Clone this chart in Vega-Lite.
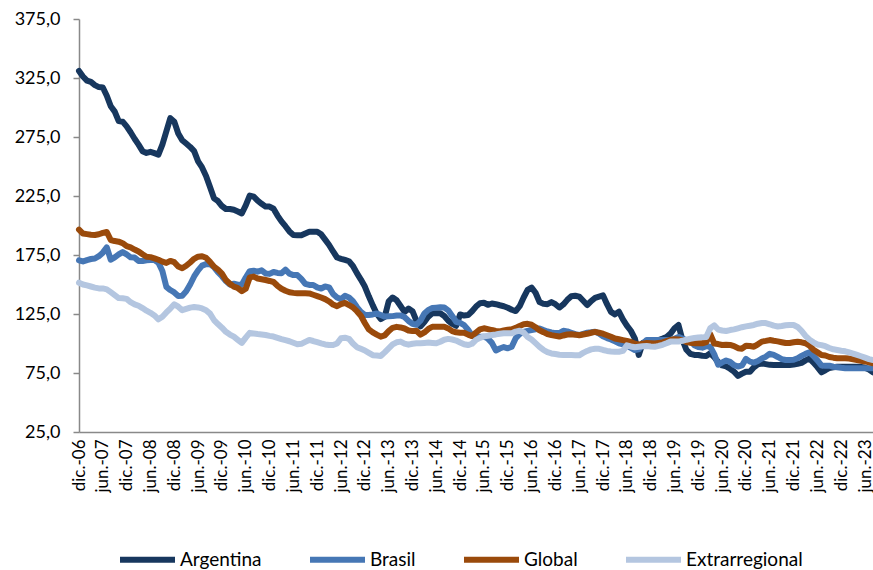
{
"$schema": "https://vega.github.io/schema/vega-lite/v6.json",
"width": 794,
"height": 413,
"autosize": {"type": "none"},
"padding": {"left": 79, "top": 19, "right": 0, "bottom": 138},
"background": "white",
"config": {"view": {"stroke": null}, "font": "Lato"},
"data": {"values": [
{"mes":"2006-12","Argentina":331,"Brasil":170.5,"Global":196.5,"Extrarregional":151.5},
{"mes":"2007-01","Argentina":326.3,"Brasil":169.5,"Global":193.2,"Extrarregional":150},
{"mes":"2007-02","Argentina":322.8,"Brasil":170.7,"Global":192.7,"Extrarregional":149.2},
{"mes":"2007-03","Argentina":321.7,"Brasil":171.6,"Global":192.2,"Extrarregional":148.3},
{"mes":"2007-04","Argentina":319,"Brasil":172,"Global":192,"Extrarregional":147.4},
{"mes":"2007-05","Argentina":317.3,"Brasil":174,"Global":192.6,"Extrarregional":146.7},
{"mes":"2007-06","Argentina":316.9,"Brasil":177,"Global":193.7,"Extrarregional":146.7},
{"mes":"2007-07","Argentina":310,"Brasil":181.5,"Global":194.5,"Extrarregional":145.9},
{"mes":"2007-08","Argentina":301,"Brasil":171,"Global":187.7,"Extrarregional":143.5},
{"mes":"2007-09","Argentina":296.5,"Brasil":173,"Global":186.8,"Extrarregional":141},
{"mes":"2007-10","Argentina":288.5,"Brasil":175.5,"Global":186.3,"Extrarregional":138.5},
{"mes":"2007-11","Argentina":288,"Brasil":177.5,"Global":185,"Extrarregional":138.3},
{"mes":"2007-12","Argentina":284,"Brasil":175.5,"Global":182.5,"Extrarregional":137.8},
{"mes":"2008-01","Argentina":279,"Brasil":173,"Global":181.4,"Extrarregional":135},
{"mes":"2008-02","Argentina":273.5,"Brasil":172.8,"Global":179.6,"Extrarregional":133.2},
{"mes":"2008-03","Argentina":268.5,"Brasil":170,"Global":178,"Extrarregional":132},
{"mes":"2008-04","Argentina":263,"Brasil":169.9,"Global":175.6,"Extrarregional":130},
{"mes":"2008-05","Argentina":261.5,"Brasil":170.6,"Global":173.5,"Extrarregional":127.8},
{"mes":"2008-06","Argentina":262.4,"Brasil":170.8,"Global":173.2,"Extrarregional":126},
{"mes":"2008-07","Argentina":261.3,"Brasil":170.8,"Global":172.2,"Extrarregional":123.8},
{"mes":"2008-08","Argentina":260,"Brasil":168.5,"Global":171,"Extrarregional":120.5},
{"mes":"2008-09","Argentina":268.6,"Brasil":161.5,"Global":169.4,"Extrarregional":122.7},
{"mes":"2008-10","Argentina":279.8,"Brasil":148,"Global":168.3,"Extrarregional":126.3},
{"mes":"2008-11","Argentina":291,"Brasil":145.3,"Global":170,"Extrarregional":129.6},
{"mes":"2008-12","Argentina":288,"Brasil":143.3,"Global":168.9,"Extrarregional":133.2},
{"mes":"2009-01","Argentina":278,"Brasil":140.3,"Global":165.2,"Extrarregional":131.2},
{"mes":"2009-02","Argentina":272.3,"Brasil":140.5,"Global":163.8,"Extrarregional":128.2},
{"mes":"2009-03","Argentina":269.5,"Brasil":144.2,"Global":165.9,"Extrarregional":129.3},
{"mes":"2009-04","Argentina":266.6,"Brasil":150,"Global":168.7,"Extrarregional":130.4},
{"mes":"2009-05","Argentina":263,"Brasil":156.8,"Global":171.8,"Extrarregional":130.9},
{"mes":"2009-06","Argentina":254.3,"Brasil":162,"Global":173.6,"Extrarregional":130.6},
{"mes":"2009-07","Argentina":249.2,"Brasil":166,"Global":174,"Extrarregional":129.7},
{"mes":"2009-08","Argentina":242,"Brasil":167.3,"Global":172.7,"Extrarregional":128.2},
{"mes":"2009-09","Argentina":232.6,"Brasil":167.2,"Global":169.2,"Extrarregional":125.3},
{"mes":"2009-10","Argentina":223,"Brasil":164.7,"Global":165.1,"Extrarregional":119.9},
{"mes":"2009-11","Argentina":220.7,"Brasil":160.4,"Global":162.6,"Extrarregional":116.5},
{"mes":"2009-12","Argentina":216.5,"Brasil":157,"Global":159.2,"Extrarregional":113.4},
{"mes":"2010-01","Argentina":214,"Brasil":152.9,"Global":153.8,"Extrarregional":109.9},
{"mes":"2010-02","Argentina":214,"Brasil":149.9,"Global":150.6,"Extrarregional":107.6},
{"mes":"2010-03","Argentina":213.3,"Brasil":150.6,"Global":148.2,"Extrarregional":105.8},
{"mes":"2010-04","Argentina":211.8,"Brasil":149.8,"Global":147,"Extrarregional":103.1},
{"mes":"2010-05","Argentina":210.2,"Brasil":149.9,"Global":144.4,"Extrarregional":100.5},
{"mes":"2010-06","Argentina":217,"Brasil":155.9,"Global":146.4,"Extrarregional":105},
{"mes":"2010-07","Argentina":225.4,"Brasil":161.3,"Global":156,"Extrarregional":109},
{"mes":"2010-08","Argentina":224.4,"Brasil":161.6,"Global":156.7,"Extrarregional":108.5},
{"mes":"2010-09","Argentina":221,"Brasil":160.9,"Global":155.1,"Extrarregional":108},
{"mes":"2010-10","Argentina":218.4,"Brasil":162,"Global":154.5,"Extrarregional":107.6},
{"mes":"2010-11","Argentina":216,"Brasil":159.4,"Global":153.8,"Extrarregional":107.2},
{"mes":"2010-12","Argentina":216,"Brasil":159,"Global":153,"Extrarregional":106.5},
{"mes":"2011-01","Argentina":214.2,"Brasil":160.6,"Global":152.1,"Extrarregional":105.9},
{"mes":"2011-02","Argentina":208.4,"Brasil":159.8,"Global":148.9,"Extrarregional":104.8},
{"mes":"2011-03","Argentina":203.5,"Brasil":159.6,"Global":146.4,"Extrarregional":103.7},
{"mes":"2011-04","Argentina":199.4,"Brasil":162.6,"Global":144.7,"Extrarregional":102.8},
{"mes":"2011-05","Argentina":195,"Brasil":159.2,"Global":143.4,"Extrarregional":101.9},
{"mes":"2011-06","Argentina":192,"Brasil":158,"Global":142.9,"Extrarregional":100.6},
{"mes":"2011-07","Argentina":191.7,"Brasil":158,"Global":142.5,"Extrarregional":99.3},
{"mes":"2011-08","Argentina":191.8,"Brasil":154.8,"Global":142.5,"Extrarregional":99.7},
{"mes":"2011-09","Argentina":193.3,"Brasil":150.6,"Global":142.5,"Extrarregional":101.4},
{"mes":"2011-10","Argentina":194.7,"Brasil":149.6,"Global":142.4,"Extrarregional":103},
{"mes":"2011-11","Argentina":194.7,"Brasil":149.6,"Global":141.3,"Extrarregional":102.1},
{"mes":"2011-12","Argentina":194.7,"Brasil":147.6,"Global":140.2,"Extrarregional":101.1},
{"mes":"2012-01","Argentina":192.5,"Brasil":146.6,"Global":139,"Extrarregional":100.1},
{"mes":"2012-02","Argentina":188,"Brasil":148.3,"Global":137.6,"Extrarregional":99.2},
{"mes":"2012-03","Argentina":183.5,"Brasil":147.6,"Global":135.6,"Extrarregional":98.7},
{"mes":"2012-04","Argentina":178,"Brasil":142,"Global":133,"Extrarregional":98.7},
{"mes":"2012-05","Argentina":172.9,"Brasil":139,"Global":131.6,"Extrarregional":100},
{"mes":"2012-06","Argentina":171.8,"Brasil":137.6,"Global":133.4,"Extrarregional":104.5},
{"mes":"2012-07","Argentina":170.8,"Brasil":140.4,"Global":134.4,"Extrarregional":104.9},
{"mes":"2012-08","Argentina":169.7,"Brasil":139,"Global":132.6,"Extrarregional":104},
{"mes":"2012-09","Argentina":165.7,"Brasil":135.8,"Global":130.6,"Extrarregional":100},
{"mes":"2012-10","Argentina":159.6,"Brasil":130.9,"Global":127.4,"Extrarregional":96.9},
{"mes":"2012-11","Argentina":154.2,"Brasil":126.8,"Global":123.5,"Extrarregional":95.5},
{"mes":"2012-12","Argentina":148.3,"Brasil":124.2,"Global":117.4,"Extrarregional":94.1},
{"mes":"2013-01","Argentina":140,"Brasil":124.2,"Global":111.9,"Extrarregional":92.1},
{"mes":"2013-02","Argentina":132.3,"Brasil":124.6,"Global":109.4,"Extrarregional":90.1},
{"mes":"2013-03","Argentina":125.2,"Brasil":125.5,"Global":107.5,"Extrarregional":89.8},
{"mes":"2013-04","Argentina":120.7,"Brasil":124.1,"Global":105.8,"Extrarregional":89.4},
{"mes":"2013-05","Argentina":122.5,"Brasil":122.8,"Global":106.9,"Extrarregional":92.5},
{"mes":"2013-06","Argentina":135.7,"Brasil":123,"Global":110.5,"Extrarregional":95.8},
{"mes":"2013-07","Argentina":139,"Brasil":123.2,"Global":113.3,"Extrarregional":99.2},
{"mes":"2013-08","Argentina":136.6,"Brasil":123.7,"Global":114.1,"Extrarregional":101},
{"mes":"2013-09","Argentina":131.8,"Brasil":123.8,"Global":113.6,"Extrarregional":101.6},
{"mes":"2013-10","Argentina":126.8,"Brasil":122.4,"Global":112.7,"Extrarregional":99.9},
{"mes":"2013-11","Argentina":129.6,"Brasil":119.1,"Global":111,"Extrarregional":99},
{"mes":"2013-12","Argentina":127.4,"Brasil":116.7,"Global":110.5,"Extrarregional":99.8},
{"mes":"2014-01","Argentina":119.1,"Brasil":115.9,"Global":110.7,"Extrarregional":100.2},
{"mes":"2014-02","Argentina":114.5,"Brasil":119.3,"Global":107.5,"Extrarregional":100.2},
{"mes":"2014-03","Argentina":118.2,"Brasil":125.5,"Global":109.4,"Extrarregional":100.5},
{"mes":"2014-04","Argentina":122.8,"Brasil":128.5,"Global":112.3,"Extrarregional":100.8},
{"mes":"2014-05","Argentina":125.6,"Brasil":130,"Global":114.2,"Extrarregional":100.5},
{"mes":"2014-06","Argentina":125.6,"Brasil":130.4,"Global":114.2,"Extrarregional":100.2},
{"mes":"2014-07","Argentina":125.6,"Brasil":130.8,"Global":114.2,"Extrarregional":101.5},
{"mes":"2014-08","Argentina":123.3,"Brasil":130.5,"Global":114.2,"Extrarregional":103.2},
{"mes":"2014-09","Argentina":119.4,"Brasil":128.1,"Global":112.8,"Extrarregional":103.9},
{"mes":"2014-10","Argentina":116.6,"Brasil":123.4,"Global":110.5,"Extrarregional":103.4},
{"mes":"2014-11","Argentina":115,"Brasil":118.4,"Global":109.5,"Extrarregional":102.5},
{"mes":"2014-12","Argentina":124.6,"Brasil":117.4,"Global":109.1,"Extrarregional":100.9},
{"mes":"2015-01","Argentina":123.7,"Brasil":115.6,"Global":109.1,"Extrarregional":99.4},
{"mes":"2015-02","Argentina":124.1,"Brasil":111.7,"Global":107.5,"Extrarregional":98.7},
{"mes":"2015-03","Argentina":127.3,"Brasil":106.6,"Global":106.3,"Extrarregional":99.8},
{"mes":"2015-04","Argentina":131.3,"Brasil":105.8,"Global":109.3,"Extrarregional":103.1},
{"mes":"2015-05","Argentina":134.1,"Brasil":105.8,"Global":112,"Extrarregional":104.8},
{"mes":"2015-06","Argentina":134.5,"Brasil":105.8,"Global":112.9,"Extrarregional":106},
{"mes":"2015-07","Argentina":132.8,"Brasil":104.1,"Global":112.2,"Extrarregional":106.6},
{"mes":"2015-08","Argentina":133.9,"Brasil":100.5,"Global":111.4,"Extrarregional":107.2},
{"mes":"2015-09","Argentina":133.3,"Brasil":94.1,"Global":110.7,"Extrarregional":107.7},
{"mes":"2015-10","Argentina":132.4,"Brasil":95.8,"Global":110.2,"Extrarregional":108.3},
{"mes":"2015-11","Argentina":131.6,"Brasil":97,"Global":111,"Extrarregional":108.6},
{"mes":"2015-12","Argentina":130.3,"Brasil":95.9,"Global":111.6,"Extrarregional":108.6},
{"mes":"2016-01","Argentina":128.6,"Brasil":97.3,"Global":112,"Extrarregional":108.6},
{"mes":"2016-02","Argentina":127.5,"Brasil":104.4,"Global":113.2,"Extrarregional":110.1},
{"mes":"2016-03","Argentina":131.6,"Brasil":108,"Global":114.9,"Extrarregional":110.9},
{"mes":"2016-04","Argentina":139,"Brasil":109.8,"Global":116.3,"Extrarregional":109.4},
{"mes":"2016-05","Argentina":145.4,"Brasil":110.7,"Global":116.7,"Extrarregional":105.6},
{"mes":"2016-06","Argentina":147.4,"Brasil":111.4,"Global":115.9,"Extrarregional":103.4},
{"mes":"2016-07","Argentina":143,"Brasil":112,"Global":113.8,"Extrarregional":100.3},
{"mes":"2016-08","Argentina":135.2,"Brasil":112.8,"Global":111.2,"Extrarregional":97.1},
{"mes":"2016-09","Argentina":133.6,"Brasil":111.4,"Global":109.6,"Extrarregional":94.5},
{"mes":"2016-10","Argentina":133.3,"Brasil":110.2,"Global":107.9,"Extrarregional":92.6},
{"mes":"2016-11","Argentina":135.1,"Brasil":109.4,"Global":107.1,"Extrarregional":91.6},
{"mes":"2016-12","Argentina":133.3,"Brasil":108.8,"Global":106.5,"Extrarregional":91.1},
{"mes":"2017-01","Argentina":130.5,"Brasil":108.8,"Global":105.9,"Extrarregional":90.5},
{"mes":"2017-02","Argentina":133.1,"Brasil":110.8,"Global":106.8,"Extrarregional":90.3},
{"mes":"2017-03","Argentina":137,"Brasil":110.3,"Global":107.6,"Extrarregional":90.3},
{"mes":"2017-04","Argentina":140,"Brasil":109.1,"Global":107.9,"Extrarregional":90.2},
{"mes":"2017-05","Argentina":140.5,"Brasil":107.9,"Global":107.5,"Extrarregional":90.1},
{"mes":"2017-06","Argentina":139.7,"Brasil":107.2,"Global":107,"Extrarregional":90},
{"mes":"2017-07","Argentina":136.2,"Brasil":108.2,"Global":107.6,"Extrarregional":92},
{"mes":"2017-08","Argentina":132.6,"Brasil":109.1,"Global":108.2,"Extrarregional":93.7},
{"mes":"2017-09","Argentina":136,"Brasil":109.5,"Global":109.1,"Extrarregional":95},
{"mes":"2017-10","Argentina":138.6,"Brasil":110,"Global":109.8,"Extrarregional":95.5},
{"mes":"2017-11","Argentina":139.7,"Brasil":108.5,"Global":109.1,"Extrarregional":95.5},
{"mes":"2017-12","Argentina":140.8,"Brasil":106.1,"Global":108.3,"Extrarregional":94.5},
{"mes":"2018-01","Argentina":133.3,"Brasil":104.6,"Global":107,"Extrarregional":93.7},
{"mes":"2018-02","Argentina":126.8,"Brasil":103.4,"Global":105.7,"Extrarregional":93.3},
{"mes":"2018-03","Argentina":124.7,"Brasil":101.8,"Global":104.2,"Extrarregional":93},
{"mes":"2018-04","Argentina":127,"Brasil":100.2,"Global":103.6,"Extrarregional":93},
{"mes":"2018-05","Argentina":120.5,"Brasil":99.3,"Global":102.9,"Extrarregional":93.7},
{"mes":"2018-06","Argentina":115.2,"Brasil":98.2,"Global":102.2,"Extrarregional":98.4},
{"mes":"2018-07","Argentina":110.8,"Brasil":96.3,"Global":101.3,"Extrarregional":97.5},
{"mes":"2018-08","Argentina":104.4,"Brasil":94.5,"Global":99.8,"Extrarregional":96.8},
{"mes":"2018-09","Argentina":90.3,"Brasil":95,"Global":99,"Extrarregional":97.3},
{"mes":"2018-10","Argentina":100.4,"Brasil":99.7,"Global":99.9,"Extrarregional":97.7},
{"mes":"2018-11","Argentina":102,"Brasil":103,"Global":100.4,"Extrarregional":97.8},
{"mes":"2018-12","Argentina":103,"Brasil":103,"Global":100.2,"Extrarregional":97.4},
{"mes":"2019-01","Argentina":103,"Brasil":103,"Global":100,"Extrarregional":97.2},
{"mes":"2019-02","Argentina":103,"Brasil":103,"Global":100.5,"Extrarregional":98},
{"mes":"2019-03","Argentina":104.2,"Brasil":103,"Global":100.9,"Extrarregional":98.9},
{"mes":"2019-04","Argentina":105.5,"Brasil":103,"Global":102,"Extrarregional":100.2},
{"mes":"2019-05","Argentina":108.4,"Brasil":103,"Global":103,"Extrarregional":101.6},
{"mes":"2019-06","Argentina":112.9,"Brasil":104,"Global":103.7,"Extrarregional":101.6},
{"mes":"2019-07","Argentina":115.7,"Brasil":105.6,"Global":103.5,"Extrarregional":101.6},
{"mes":"2019-08","Argentina":103,"Brasil":104.3,"Global":102.6,"Extrarregional":102.3},
{"mes":"2019-09","Argentina":94.7,"Brasil":102.7,"Global":101.3,"Extrarregional":103.2},
{"mes":"2019-10","Argentina":91.3,"Brasil":102,"Global":100.6,"Extrarregional":104},
{"mes":"2019-11","Argentina":90.3,"Brasil":98.5,"Global":100.2,"Extrarregional":104.6},
{"mes":"2019-12","Argentina":90.3,"Brasil":97,"Global":100.2,"Extrarregional":105},
{"mes":"2020-01","Argentina":89.6,"Brasil":96.5,"Global":100.2,"Extrarregional":105.2},
{"mes":"2020-02","Argentina":89.5,"Brasil":97.8,"Global":101.1,"Extrarregional":105.5},
{"mes":"2020-03","Argentina":91.7,"Brasil":97.2,"Global":108,"Extrarregional":113},
{"mes":"2020-04","Argentina":88.4,"Brasil":91,"Global":100,"Extrarregional":115.4},
{"mes":"2020-05","Argentina":84.3,"Brasil":82,"Global":99.5,"Extrarregional":111.8},
{"mes":"2020-06","Argentina":81.4,"Brasil":84,"Global":98.7,"Extrarregional":111},
{"mes":"2020-07","Argentina":80.6,"Brasil":85.6,"Global":99,"Extrarregional":110.6},
{"mes":"2020-08","Argentina":78.6,"Brasil":84.4,"Global":98.8,"Extrarregional":111.4},
{"mes":"2020-09","Argentina":76.1,"Brasil":81.7,"Global":97.8,"Extrarregional":112},
{"mes":"2020-10","Argentina":72.6,"Brasil":80.5,"Global":96,"Extrarregional":112.9},
{"mes":"2020-11","Argentina":74.5,"Brasil":81.4,"Global":95.6,"Extrarregional":113.8},
{"mes":"2020-12","Argentina":76.1,"Brasil":87,"Global":98.1,"Extrarregional":114.5},
{"mes":"2021-01","Argentina":76.1,"Brasil":84.6,"Global":97.9,"Extrarregional":115.1},
{"mes":"2021-02","Argentina":79.9,"Brasil":83.8,"Global":97.3,"Extrarregional":115.7},
{"mes":"2021-03","Argentina":82.4,"Brasil":85.2,"Global":99.3,"Extrarregional":116.8},
{"mes":"2021-04","Argentina":83,"Brasil":87.3,"Global":101.6,"Extrarregional":117.4},
{"mes":"2021-05","Argentina":82.5,"Brasil":88.8,"Global":102.2,"Extrarregional":117.3},
{"mes":"2021-06","Argentina":81.9,"Brasil":91.3,"Global":102.9,"Extrarregional":116.3},
{"mes":"2021-07","Argentina":81.8,"Brasil":90.3,"Global":102.3,"Extrarregional":115.1},
{"mes":"2021-08","Argentina":81.8,"Brasil":88.6,"Global":101.8,"Extrarregional":114.4},
{"mes":"2021-09","Argentina":81.8,"Brasil":86.8,"Global":101.1,"Extrarregional":114.8},
{"mes":"2021-10","Argentina":81.8,"Brasil":86,"Global":100.4,"Extrarregional":115.4},
{"mes":"2021-11","Argentina":81.8,"Brasil":86,"Global":100.5,"Extrarregional":115.7},
{"mes":"2021-12","Argentina":82.2,"Brasil":86.2,"Global":101,"Extrarregional":115.7},
{"mes":"2022-01","Argentina":82.8,"Brasil":87.5,"Global":101.5,"Extrarregional":114},
{"mes":"2022-02","Argentina":83.6,"Brasil":89.5,"Global":101,"Extrarregional":110.7},
{"mes":"2022-03","Argentina":85.7,"Brasil":91.2,"Global":100.2,"Extrarregional":106.5},
{"mes":"2022-04","Argentina":87.2,"Brasil":92.6,"Global":98.2,"Extrarregional":103.3},
{"mes":"2022-05","Argentina":83.9,"Brasil":89.4,"Global":94.8,"Extrarregional":101},
{"mes":"2022-06","Argentina":80,"Brasil":85.7,"Global":92.6,"Extrarregional":99.2},
{"mes":"2022-07","Argentina":75.6,"Brasil":81.4,"Global":90.2,"Extrarregional":98.6},
{"mes":"2022-08","Argentina":77.3,"Brasil":81.2,"Global":89.8,"Extrarregional":97.7},
{"mes":"2022-09","Argentina":79.3,"Brasil":81.2,"Global":88.6,"Extrarregional":96.2},
{"mes":"2022-10","Argentina":79.8,"Brasil":80.3,"Global":88,"Extrarregional":95.1},
{"mes":"2022-11","Argentina":80.3,"Brasil":79.9,"Global":87.5,"Extrarregional":94.5},
{"mes":"2022-12","Argentina":80.3,"Brasil":79.4,"Global":87.5,"Extrarregional":93.9},
{"mes":"2023-01","Argentina":80.3,"Brasil":79,"Global":87.5,"Extrarregional":93.4},
{"mes":"2023-02","Argentina":80.3,"Brasil":79,"Global":87.2,"Extrarregional":92.4},
{"mes":"2023-03","Argentina":80.3,"Brasil":79,"Global":86.6,"Extrarregional":91.4},
{"mes":"2023-04","Argentina":80.3,"Brasil":79,"Global":86,"Extrarregional":90.3},
{"mes":"2023-05","Argentina":80.2,"Brasil":79,"Global":85.4,"Extrarregional":89.2},
{"mes":"2023-06","Argentina":79.5,"Brasil":79,"Global":84.8,"Extrarregional":88},
{"mes":"2023-07","Argentina":77.9,"Brasil":79,"Global":84,"Extrarregional":86.8},
{"mes":"2023-08","Argentina":75.5,"Brasil":79,"Global":83.3,"Extrarregional":86}
]},
"transform": [{"fold": ["Argentina", "Brasil", "Global", "Extrarregional"], "as": ["serie", "valor"]}],
"mark": {"type": "line", "strokeWidth": 6, "strokeJoin": "round", "strokeCap": "round"},
"encoding": {
"x": {"field": "mes", "type": "ordinal", "scale": {"type": "point", "padding": 0},
"axis": {"title": null, "values": ["2006-12","2007-06","2007-12","2008-06","2008-12","2009-06","2009-12","2010-06","2010-12","2011-06","2011-12","2012-06","2012-12","2013-06","2013-12","2014-06","2014-12","2015-06","2015-12","2016-06","2016-12","2017-06","2017-12","2018-06","2018-12","2019-06","2019-12","2020-06","2020-12","2021-06","2021-12","2022-06","2022-12","2023-06"],
"labelExpr": "(substring(datum.value,5,7)=='12'?'dic.':'jun.')+'-'+substring(datum.value,2,4)",
"labelAngle": 270, "labelFontSize": 17, "labelColor": "#000000", "labelFont": "Lato", "ticks": false, "domainColor": "#898989", "domainWidth": 1.5, "labelPadding": 7, "labelOverlap": false}},
"y": {"field": "valor", "type": "quantitative", "scale": {"domain": [25, 375], "nice": false, "zero": false},
"axis": {"title": null, "values": [25, 75, 125, 175, 225, 275, 325, 375], "labelExpr": "replace(format(datum.value,'.1f'),'.',',')", "grid": false, "tickSize": 6, "tickColor": "#898989", "tickWidth": 1.5, "domainColor": "#898989", "domainWidth": 1.5, "labelPadding": 13, "labelFontSize": 18, "labelColor": "#000000", "labelFont": "Lato"}},
"color": {"field": "serie", "type": "nominal",
"scale": {"domain": ["Argentina", "Brasil", "Global", "Extrarregional"], "range": ["#17375E", "#4677B5", "#9A4A0B", "#B4C6E0"]},
"legend": {"orient": "none", "legendX": 38, "legendY": 510, "direction": "horizontal", "title": null, "symbolType": "stroke", "symbolSize": 3025, "symbolStrokeWidth": 6, "labelFontSize": 19, "labelColor": "#000000", "labelFont": "Lato", "labelOffset": 2, "columnPadding": 36, "padding": 0}}
}
}
